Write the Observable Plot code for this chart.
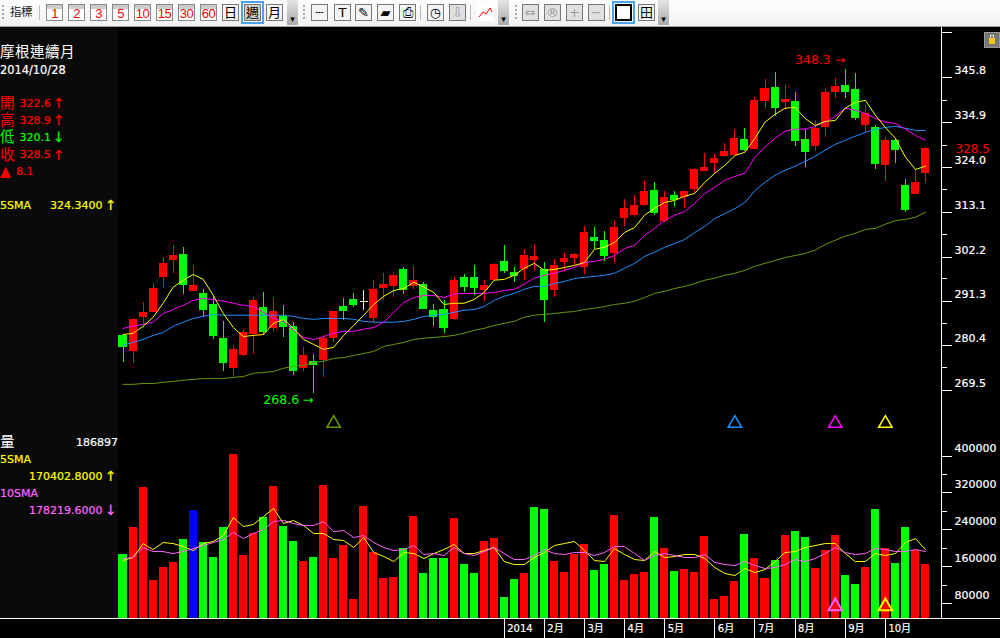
<!DOCTYPE html>
<html lang="zh-Hant">
<head>
<meta charset="utf-8">
<script src="https://cdn.jsdelivr.net/npm/d3@7"></script>
<script src="https://cdn.jsdelivr.net/npm/@observablehq/plot@0.6"></script>
<style>
@font-face{font-family:"CJKTight";src:local("Noto Sans CJK TC"),local("Noto Sans CJK TC Regular"),local("NotoSansCJKtc-Regular");ascent-override:88%;descent-override:12%;line-gap-override:0%}
html,body{margin:0;padding:0;background:#000;width:1000px;height:638px;overflow:hidden}
#page{position:relative;width:1000px;height:638px;background:#000;font-family:"DejaVu Sans",sans-serif}
#toolbar{position:absolute;left:0;top:0;width:1000px;height:26px;background:linear-gradient(#fdfdfd,#f2f2f2);border-bottom:1px solid #a0a0a0}
#side{position:absolute;left:0;top:27px;width:118px;height:591px;background:#0a0a0a}
#price,#volume{position:absolute;left:0}
#price{top:27px}#volume{top:432px}
#price svg,#volume svg{display:block}
.t{position:absolute;white-space:nowrap;line-height:16px;font-size:11px;-webkit-text-stroke:.2px}
.b{position:absolute;top:4px;width:15px;height:15px;border:1px solid #888;background:linear-gradient(#ccc 4px,#fff 4px);color:#f00;font:13px/17px "Liberation Sans",sans-serif;text-align:center;overflow:hidden;letter-spacing:-.5px}
.i{position:absolute;top:4px;width:15px;height:15px;border:1px solid #777;background:#f4f4f4;color:#000;font:13px/15px "DejaVu Sans",sans-serif;text-align:center;overflow:hidden}
.g{color:#999;background:#e0e0e0}
.c{position:absolute;top:0;width:11px;height:25px;background:linear-gradient(#e4e4e4,#aaa);color:#000;font:9px/38px "DejaVu Sans",sans-serif;text-align:center;overflow:hidden}
.s{outline:2px solid #4aa3f0;outline-offset:1px;background:#ccc}
.sep{position:absolute;top:5px;width:1px;height:15px;background:#bbb}
.grip{position:absolute;top:5px;width:2px;height:15px;background:repeating-linear-gradient(#aaa 0 2px,transparent 2px 4px)}
#lock{position:absolute;left:984px;top:32px;width:14px;height:14px;background:#777;border:1px solid #999}
#lock i{position:absolute;left:4px;top:5px;width:6px;height:6px;background:#f5c518}
#lock b{position:absolute;left:5px;top:2px;width:2px;height:2px;border:1px solid #ddd;border-bottom:0}
</style>
</head>
<body>
<div id="page">
  <div id="toolbar"></div>
  <div id="side"></div>
  <div id="price"></div>
  <div id="volume"></div>
  <div id="lock"><b></b><i></i></div>
</div>
<script>
const open = [283.2,279.3,287.6,288.8,297.3,301.4,302.9,293.9,293.4,290.7,
282.5,275.2,278.3,283.4,290,284.9,287.8,285.4,275.2,276.9,
277.1,282.5,290.2,291.9,291.5,287.3,294.6,295.1,299.2,295.1,
295.6,289.3,289.5,287.1,297.3,297.3,294.1,296.6,301.2,298.5,
299.2,301.4,299.2,294.1,300.9,301.9,299.7,307,306.3,303.1,
311.6,312.4,314.8,318.4,310.9,317.2,316.7,318.7,323,325,
326.7,326.9,330.8,328.4,340,343.5,339.8,340,330.8,329.1,
333.7,342.2,343.9,343,334.2,333.7,324.5,330.6,319.6,317.5,322.6];
const high = [283.2,287.3,291.2,295.8,302.1,305.1,304.6,300.2,294.4,292.7,
286.6,280.8,284.7,292.4,293.6,292.2,290.5,286.4,280.3,278.6,
283.2,289,292.2,293.4,294.1,296.6,298.3,298.5,299.7,300,
296.1,290.7,291.7,297.3,298,300.2,296.6,300.7,305.1,299.7,
304.1,305.1,300.9,301.7,303.1,303.1,309.7,309.4,308.5,310.9,
316.2,317.2,320.6,320.4,318.2,318.2,318.4,323.8,327.4,327.2,
329.9,333,333.5,341,345.4,347.1,343.9,342.2,333.3,335.4,
343,345.6,347.8,346.9,339.1,334.2,331.3,330.8,321.1,323.5,328.9];
const low = [276.6,276.4,284.9,288.8,294.6,298.3,293.2,293.9,287.6,282.2,
274.4,273.2,278.1,278.6,283.2,284.2,282.7,273.5,274.4,269.1,
273,281.5,286.8,290,289.3,286.1,291.7,292.4,293.2,294.4,
289.5,285.4,283.7,286.8,293.6,292.9,291.5,296.6,298.3,296.1,
296.6,299,286.4,292.4,298.7,300.2,298,304.1,301.2,300.9,
309.7,311.9,314.5,312.4,310.7,314.5,314.1,317.9,323,322.3,
326.5,326.9,327.9,328.4,338.4,336.4,337.9,329.1,324,327.9,
331.3,340.8,340.8,335.4,332.5,323.5,320.6,325,313.1,317.5,320.1];
const close = [280.3,287.1,288.8,294.6,300.7,302.6,295.3,295.3,289.3,282.9,
276.4,279.8,283.9,291.7,283.9,289,285.1,274.4,278.3,275.9,
282.5,289,289,290.5,291.5,294.4,295.6,297.8,294.1,296.6,
289.5,287.6,284.9,296.6,294.9,294.6,295.3,300.4,298.7,297.5,
302.6,302.4,291.7,300.2,301.9,302.9,308.2,306,302.4,309.4,
314.1,314.8,318.2,312.8,316.7,316,318.2,323.5,324,326.2,
327.9,331.1,328.1,340.3,343.2,338.4,340.5,330.3,327.7,333.5,
342.2,343.7,342.2,335.9,337.1,324.7,330.6,328.1,313.6,320.4,328.5];
const sma5 = [283.4,283.7,285.4,287.6,291,294.9,296.6,298,296.8,292.9,
288.5,285.1,282.9,283.2,283.4,286.1,287.1,284.9,282.2,281,
279.8,280.3,283.2,285.6,288.1,290.7,292.7,294.1,294.6,296.1,
294.9,293.6,290.7,291,291,291.9,293.6,296.6,296.8,297.8,
299.5,300.7,299,299.2,299.7,300.2,300.9,304.1,304.6,305.8,
308.2,309.4,312.4,314.1,315.5,316,317,317.7,320.4,322.6,
324.5,326.9,327.7,331.1,335,336.9,338.4,338.6,335.9,334.2,
335.2,335.4,338.4,339.8,340.3,336.7,333.7,331.1,326.5,323.5,324.3];
const sma10 = [284.9,285.4,285.9,286.4,288.5,289.5,290.5,291.7,292.2,291.9,
291.5,291,290.5,290.2,288.8,287.3,286.6,284.4,282.7,282.2,
282.9,283.7,284.2,284.2,284.7,285.1,286.4,288.8,291.2,292.4,
292.9,292.9,292.4,293.2,293.4,293.4,293.4,293.6,294.1,294.4,
295.6,297.1,297.8,298.3,299,299.7,300.9,301.2,301.7,302.6,
304.3,305.1,307.5,309.2,311.1,312.4,313.3,315.3,317.7,319.2,
320.9,321.8,322.6,326.5,328.9,331.1,332.8,333.3,333.3,334,
335,336.4,338.4,337.9,337.1,335.9,335,334.7,333.3,331.8,330.6];
const sma20 = [280.8,281.5,282.2,283.2,283.9,285.4,286.4,287.3,287.8,288.3,
288.1,288.1,288.1,288.1,288.1,288.1,288.1,287.8,287.3,287.1,
287.3,287.3,287.3,287.1,286.6,286.4,286.4,286.4,286.6,287.1,
287.8,288.1,288.3,288.8,289.3,289.5,290.2,291.7,292.7,293.4,
294.4,295.1,295.1,295.8,296.3,297,297.3,297.5,297.8,298.3,
299.5,300.7,302.4,303.4,304.6,305.5,306.5,308.2,309.7,311.6,
312.8,314,315.5,318.4,320.4,322.1,323.3,324.3,325.5,326.7,
328.2,329.6,330.6,331.6,332.5,333.3,333.7,334,333.5,333,333];
const sma60 = [271.3,271.3,271.5,271.5,271.8,272,272.3,272.5,272.7,272.7,
272.7,273,273.2,274,274.2,274.4,275.2,275.7,275.9,276.6,
276.9,277.6,277.8,278.3,278.8,279.3,280.5,281,281.5,282.2,
282.5,282.7,282.9,283.2,283.7,284.4,284.9,285.6,286.1,286.6,
287.6,288.1,288.3,288.5,288.8,289,289.5,289.8,290.2,290.7,
291,291.5,292.4,293.4,293.9,294.6,295.1,295.8,296.6,297.1,
297.8,298.3,299,300,300.7,301.4,302.1,302.6,303.1,303.9,
305.3,306.3,307.3,308,308.9,309.2,310.2,311.1,311.4,311.9,313.1];
const volume = [186600,244900,331400,130300,158400,169300,219000,281700,212500,180100,
244900,402800,184400,232000,266500,333600,247100,214700,171400,180100,
335700,177900,206000,89300,290300,190900,134700,136800,199500,268700,
145500,177900,177900,264400,164900,145500,214700,221100,93600,132500,
145500,288200,283800,171400,147600,186600,208200,152000,164900,270900,
130300,143300,147600,266500,199500,149800,154100,147600,225500,89300,
95700,128200,229800,177900,134700,173600,227600,236300,223300,156300,
195200,227600,141100,121700,158400,283800,199500,167100,244900,195200,164900];
const volKind = "g rrrrr g b ggg rrr g r gg r g rrrrrrrr g r ggg r gg rr gg r gg rrrr gg rrrr g r g rrrrrr g rr g r gg rrr gg r g r gg rr".replace(/ /g,"").split("");
const vol5 = [173600,180100,210300,197400,212500,210300,203800,195200,210300,214700,
227600,266500,247100,251400,268700,286000,253600,260100,249300,232000,
232000,219000,216800,201700,223300,190900,182300,171400,190900,188700,
177900,188700,197400,208200,188700,188700,195200,201700,171400,164900,
164900,180100,190900,206000,210300,214700,195200,173600,171400,199500,
186600,175700,173600,193000,180100,182300,186600,186600,177900,158400,
145500,141100,156300,147600,154100,171400,190900,193000,201700,206000,
210300,210300,188700,171400,171400,188700,184400,188700,212500,221100,197400];
const vol10 = [177900,180100,201700,193000,193000,188700,193000,199500,206000,212500,
219000,234100,221100,232000,240600,257900,260100,253600,249300,249300,
257900,236300,238400,223300,227600,212500,201700,195200,197400,206000,
186600,188700,184400,201700,188700,184400,193000,201700,188700,175700,
175700,184400,197400,188700,186600,190900,190900,184400,190900,203800,
203800,188700,173600,184400,188700,184400,180100,180100,186600,169300,
164900,162800,171400,162800,156300,158400,164900,175700,171400,177900,
188700,201700,190900,186600,188700,199500,197400,193000,193000,197400,193000];
const monthIndex = [38,42,46,50,54,59,63,67,72,76];
const monthLabels = ["2014","2月","3月","4月","5月","6月","7月","8月","9月","10月"];
const priceLabels = ["345.8","334.9","324.0","313.1","302.2","291.3","280.4","269.5"];
const priceTicks = [345.8,334.9,324,313.1,302.2,291.5,280.7,269.9];
const priceExtra = [356.7];
const priceMinor = [340.35,329.45,318.55,307.7,296.9,286.1,275.3];
const volLabels = ["400000","320000","240000","160000","80000"];
const volTicks = [398000,320000,240000,160000,80000];
const volMinor = [360000,280000,200000,120000];
const priceSignals = [{i:21,p:261.8,c:"#669900"},{i:61,p:261.8,c:"#1e90ff"},{i:71,p:261.8,c:"#ff00ff"},{i:76,p:261.8,c:"#ffff00"}];
const volSignals = [{i:71,v:74500,c:"#ff66ff"},{i:76,v:74500,c:"#ffff00"}];
const highMark = {i:72,p:348.3,t:"348.3 →",c:"#ff0000"};
const lowMark = {i:19,p:268.6,t:"268.6 →",c:"#00ff00"};
const lastPrice = 328.5, volBase = 48200;

const n = open.length, idx = d3.range(n);
const RED="#ff0000", GREEN="#00ff00", DOJI="#ffeecc";
const candle = i => close[i]>open[i] ? RED : close[i]<open[i] ? GREEN : DOJI;
const xScale = {type:"linear",domain:[0,n-1],range:[122.5,925]};
const font = '"DejaVu Sans",sans-serif';
const crisp = {shapeRendering:"crispEdges"};
const ln = (arr,c)=>Plot.line(arr,{x:(d,i)=>i,y:d=>d,stroke:c,strokeWidth:1,curve:"linear"});
const bright = {stroke:"#fff",strokeWidth:.2};

const pricePlot = Plot.plot({
  width:1000,height:405,marginLeft:118,marginRight:59,marginTop:0,marginBottom:0,
  style:{background:"transparent",color:"#fff",fontFamily:font,fontSize:"11px"},
  x:{...xScale,axis:null},
  y:{domain:[259.6,358.0],range:[405,0],axis:null},
  marks:[
    Plot.ruleX(idx,{x:i=>i,y1:i=>low[i],y2:i=>high[i],stroke:candle,strokeWidth:1,...crisp}),
    Plot.rect(idx.filter(i=>open[i]!==close[i]),{x1:i=>i-0.4,x2:i=>i+0.4,y1:i=>open[i],y2:i=>close[i],fill:candle,...crisp}),
    Plot.link(idx.filter(i=>open[i]===close[i]),{x1:i=>i-0.4,x2:i=>i+0.4,y1:i=>open[i],y2:i=>open[i],stroke:DOJI,strokeWidth:1,...crisp}),
    ln(sma60,"#669900"),ln(sma20,"#1e90ff"),ln(sma10,"#ff00ff"),ln(sma5,"#ffff00"),
    Plot.dot(priceSignals,{x:"i",y:"p",symbol:"triangle",r:5,stroke:"c",strokeWidth:1.5,fill:"none"}),
    Plot.text([highMark],{x:"i",y:"p",text:"t",fill:"c",dy:-7,textAnchor:"end",fontSize:12.5}),
    Plot.text([lowMark],{x:"i",y:"p",text:"t",fill:"c",dy:5,textAnchor:"end",fontSize:12.5}),
    Plot.frame({anchor:"right",stroke:"#fff"}),
    Plot.axisY([...priceExtra,...priceTicks],{anchor:"right",tickSize:10,tickFormat:()=>"",stroke:"#fff",label:null,...crisp}),
    Plot.axisY(priceMinor,{anchor:"right",tickSize:5,tickFormat:()=>"",stroke:"#fff",label:null,...crisp}),
    Plot.text(priceTicks,{y:d=>d,text:(d,i)=>priceLabels[i],frameAnchor:"right",textAnchor:"start",dx:13,dy:-7,fill:"#fff",fontSize:11,...bright}),
    Plot.text([lastPrice],{y:d=>d,text:d=>d.toFixed(1),frameAnchor:"right",textAnchor:"start",dx:14,fill:RED,fontSize:12,stroke:"#000",strokeWidth:5,paintOrder:"stroke"})
  ]
});
document.getElementById("price").append(pricePlot);

const kindColor = {r:RED,g:GREEN,b:"#0000ff"};
const volPlot = Plot.plot({
  width:1000,height:206,marginLeft:118,marginRight:59,marginTop:0,marginBottom:20,
  style:{background:"transparent",color:"#fff",fontFamily:font,fontSize:"11px"},
  x:{...xScale,axis:null},
  y:{domain:[volBase,450500],range:[186,0],axis:null},
  marks:[
    Plot.rect(idx,{x1:i=>i-0.4,x2:i=>i+0.4,y1:()=>volBase,y2:i=>volume[i],fill:i=>kindColor[volKind[i]],...crisp}),
    ln(vol5,"#ffff00"),ln(vol10,"#ff66ff"),
    Plot.dot(volSignals,{x:"i",y:"v",symbol:"triangle",r:5,stroke:"c",strokeWidth:2,fill:"none"}),
    Plot.frame({anchor:"right",stroke:"#fff"}),
    Plot.ruleY([volBase],{stroke:"#fff",strokeWidth:1,insetLeft:-118,insetRight:-59,...crisp}),
    Plot.axisY(volTicks,{anchor:"right",tickSize:10,tickFormat:()=>"",stroke:"#fff",label:null,...crisp}),
    Plot.axisY(volMinor,{anchor:"right",tickSize:5,tickFormat:()=>"",stroke:"#fff",label:null,...crisp}),
    Plot.text(volTicks,{y:d=>d,text:(d,i)=>volLabels[i],frameAnchor:"right",textAnchor:"start",dx:13,dy:-8,fill:"#fff",fontSize:11,...bright}),
    Plot.axisX(monthIndex,{anchor:"bottom",tickSize:20,tickFormat:()=>"",stroke:"#fff",label:null,...crisp}),
    Plot.text(monthIndex,{x:d=>d,text:(d,i)=>monthLabels[i],frameAnchor:"bottom",dy:13,dx:3,textAnchor:"start",fill:"#fff",fontSize:10,fontFamily:'"DejaVu Sans","Noto Sans CJK TC",sans-serif',...bright})
  ]
});
document.getElementById("volume").append(volPlot);

/* side panel read-out */
const side = document.getElementById("side"), CJK='"CJKTight","Noto Sans CJK TC",sans-serif';
function put(text,x,yc,color,size,fam){
  const e=document.createElement("div");e.className="t";e.textContent=text;
  e.style.cssText=`left:${x}px;top:${yc-27-8}px;color:${color};${size?`font-size:${size}px;`:""}${fam?`font-family:${fam};-webkit-text-stroke:0;`:""}`;
  side.append(e);
}
put("摩根連續月",0,51.5,"#fff",14.6,CJK);
put("2014/10/28",0,69.5,"#fff",11.4);
[["開","322.6","↑",RED,103],["高","328.9","↑",RED,120],["低","320.1","↓",GREEN,137],["收","328.5","↑",RED,154.5]].forEach(([a,b,c,col,y])=>{
  put(a,0,y,col,14.6,CJK);put(b,19.5,y+.5,col,11);put(c,53,y,col,14);
});
put("▲",0,171,RED,14);put("8.1",16,171.5,RED,11);
put("5SMA",0,205.5,"#ffff00",11);put("324.3400",50,205.5,"#ffff00",11);put("↑",105,205,"#ffff00",14);
put("量",0,442,"#fff",14.6,CJK);put("186897",76,442.5,"#fff",11);
put("5SMA",0,459.5,"#ffff00",11);put("170402.8000",29,476.5,"#ffff00",11);put("↑",105,476,"#ffff00",14);
put("10SMA",0,493.5,"#ff66ff",11);put("178219.6000",29,510.5,"#ff66ff",11);put("↓",105,510,"#ff66ff",14);

/* toolbar */
const tb=document.getElementById("toolbar");
function tool(cls,x,text,extra){const e=document.createElement("div");e.className=cls;e.style.left=x+"px";e.innerHTML=text;if(extra)e.style.cssText+=extra;tb.append(e);return e;}
tool("t",10,"指標","top:4px;color:#222;font-family:"+CJK+";font-size:11.5px;-webkit-text-stroke:0;");
[["grip",2],["sep",39],["grip",303],["sep",420],["sep",470],["grip",515],["sep",609]].forEach(([c,x])=>tool(c,x,""));
[["1",46],["2",68],["3",90],["5",112],["10",134],["15",156],["30",178],["60",200]].forEach(([t,x])=>tool("b",x,t));
tool("i",222,"日","font-family:"+CJK+";");
tool("i s",244,"週","font-family:"+CJK+";");
tool("i",266,"月","font-family:"+CJK+";");
tool("c",287,"▾");
[["┄",311],["T",334],["✎",355],["▰",377],["⎙",399],["◷",427],["⇩",449]].forEach(([t,x],k)=>tool(k==6?"i g":"i",x,t));
tool("i",477,'<svg width="15" height="15"><polyline points="1,12 5,7 8,9 12,3 14,7" fill="none" stroke="#f00"/></svg>',"background:#fff;border-color:#fff;");
tool("c",498,"▾");
[["⇔",522],["®",544],["+",566],["−",588]].forEach(([t,x])=>tool("i g",x,t));
tool("i s",615,"","background:#fff;border:2px solid #000;width:13px;height:13px;");
tool("i",638,"田","font-family:"+CJK+";");
tool("c",658,"▾");
</script>
</body>
</html>
